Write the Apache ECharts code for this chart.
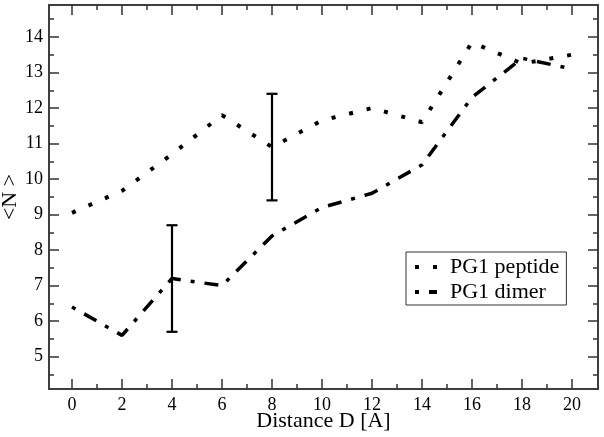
<!DOCTYPE html>
<html>
<head>
<meta charset="utf-8">
<script src="https://cdn.jsdelivr.net/npm/echarts@6/dist/echarts.min.js"></script>
<style>html,body{margin:0;padding:0;background:#fff;}#c{width:604px;height:437px;}</style>
</head>
<body>
<div id="c"></div>
<script>
const distances = [0, 2, 4, 6, 8, 10, 12, 14, 16, 18, 20];
const peptide = [9.05, 9.67, 10.7, 11.8, 10.9, 11.65, 12.0, 11.6, 13.85, 13.25, 13.5];
const dimer = [6.4, 5.6, 7.2, 7.0, 8.4, 9.2, 9.6, 10.4, 12.3, 13.4, 13.1];
const errX = [4, 8];
const errLow = [5.7, 9.4];
const errHigh = [8.7, 12.4];
const xMajorTicks = [0, 2, 4, 6, 8, 10, 12, 14, 16, 18, 20];
const xMinorTicks = [1, 3, 5, 7, 9, 11, 13, 15, 17, 19];
const yMajorTicks = [5, 6, 7, 8, 9, 10, 11, 12, 13, 14];
const yMinorTicks = [4.5, 5.5, 6.5, 7.5, 8.5, 9.5, 10.5, 11.5, 12.5, 13.5, 14.5];

const FONT = '"Liberation Serif", "DejaVu Serif", serif';
const X_MIN = -0.92, X_MAX = 21.04, Y_MIN = 4.09, Y_MAX = 14.9;
const lineCol = '#333';

function xAx(pos, ticks, len, labels, name) {
  return {
    type: 'value', position: pos, min: X_MIN, max: X_MAX,
    axisLine: { show: true, onZero: false, lineStyle: { color: lineCol, width: 1.5 } },
    axisTick: { show: true, inside: true, length: len, customValues: ticks, lineStyle: { color: lineCol, width: 1.5 } },
    axisLabel: labels ? { show: true, customValues: ticks, margin: 7, color: '#000', fontFamily: FONT, fontSize: 18 } : { show: false },
    splitLine: { show: false },
    name: name || '', nameLocation: 'middle', nameGap: 21, nameMoveOverlap: false,
    nameTextStyle: { color: '#000', fontFamily: FONT, fontSize: 22 }
  };
}
function yAx(pos, ticks, len, labels, name) {
  return {
    type: 'value', position: pos, min: Y_MIN, max: Y_MAX,
    axisLine: { show: true, onZero: false, lineStyle: { color: lineCol, width: 1.5 } },
    axisTick: { show: true, inside: true, length: len, customValues: ticks, lineStyle: { color: lineCol, width: 1.5 } },
    axisLabel: labels ? { show: true, customValues: ticks, margin: 6, color: '#000', fontFamily: FONT, fontSize: 18 } : { show: false },
    splitLine: { show: false },
    name: name || '', nameLocation: 'middle', nameGap: 28, nameRotate: 90, nameMoveOverlap: false,
    nameTextStyle: { color: '#000', fontFamily: FONT, fontSize: 22 }
  };
}

const chart = echarts.init(document.getElementById('c'), null, { renderer: 'canvas' });
chart.setOption({
  animation: false,
  backgroundColor: '#fff',
  grid: { left: 49, right: 6, top: 5, bottom: 48, containLabel: false, outerBoundsMode: 'none' },
  xAxis: [
    xAx('bottom', xMajorTicks, 10, true, 'Distance D [A]'),
    xAx('bottom', xMinorTicks, 5, false),
    xAx('top', xMajorTicks, 10, false),
    xAx('top', xMinorTicks, 5, false)
  ],
  yAxis: [
    yAx('left', yMajorTicks, 10, true, '<N >'),
    yAx('left', yMinorTicks, 5, false),
    yAx('right', yMajorTicks, 10, false),
    yAx('right', yMinorTicks, 5, false)
  ],
  legend: {
    left: 406, top: 252, orient: 'vertical',
    data: ['PG1 peptide', 'PG1 dimer'],
    itemWidth: 22, itemHeight: 14, itemGap: 3,
    padding: [4, 7, 2, 7],
    borderColor: '#333', borderWidth: 1, backgroundColor: '#fff',
    itemStyle: { opacity: 0 },
    lineStyle: { width: 4, color: '#000', cap: 'butt' },
    textStyle: { color: '#000', fontFamily: FONT, fontSize: 22, padding: [0, 0, 0, 8] }
  },
  series: [
    {
      name: 'PG1 peptide', type: 'line', xAxisIndex: 0, yAxisIndex: 0,
      data: distances.map((d, i) => [d, peptide[i]]),
      symbol: 'none', showSymbol: false,
      lineStyle: { color: '#000', width: 4, type: [4, 14], cap: 'butt' },
      itemStyle: { color: '#000' }
    },
    {
      name: 'PG1 dimer', type: 'line', xAxisIndex: 0, yAxisIndex: 0,
      data: distances.map((d, i) => [d, dimer[i]]),
      symbol: 'none', showSymbol: false,
      lineStyle: { color: '#000', width: 3.5, type: [4, 10, 14, 10], cap: 'butt' },
      itemStyle: { color: '#000' }
    },
    {
      name: 'error', type: 'custom', xAxisIndex: 0, yAxisIndex: 0,
      data: errX.map((x, i) => [x, errLow[i], errHigh[i]]),
      encode: { x: 0, y: [1, 2] },
      renderItem: function (params, api) {
        const x = api.value(0);
        const lo = api.coord([x, api.value(1)]);
        const hi = api.coord([x, api.value(2)]);
        const hw = 5.5;
        const st = { stroke: '#000', lineWidth: 2.2 };
        return {
          type: 'group',
          children: [
            { type: 'line', shape: { x1: lo[0], y1: lo[1], x2: hi[0], y2: hi[1] }, style: st },
            { type: 'line', shape: { x1: lo[0] - hw, y1: lo[1], x2: lo[0] + hw, y2: lo[1] }, style: st },
            { type: 'line', shape: { x1: hi[0] - hw, y1: hi[1], x2: hi[0] + hw, y2: hi[1] }, style: st }
          ]
        };
      }
    }
  ]
});
</script>
</body>
</html>
